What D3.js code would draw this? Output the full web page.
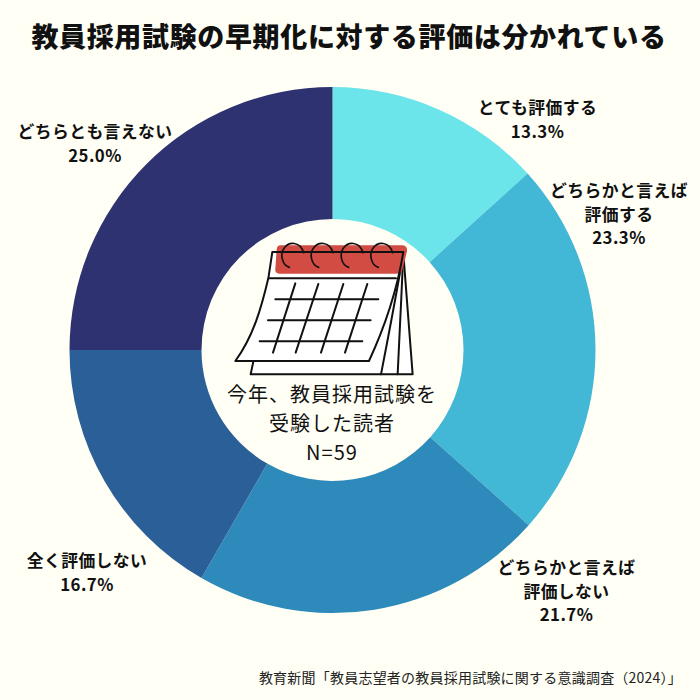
<!DOCTYPE html>
<html lang="ja">
<head>
<meta charset="UTF-8">
<title>教員採用試験の早期化に対する評価</title>
<script src="https://d3js.org/d3.v7.min.js"></script>
<style>
    html, body { margin: 0; padding: 0; background: #fffff5; }
    svg { display: block; }
    text { font-family: "Noto Sans CJK JP", "Noto Sans", sans-serif; fill: #111; text-anchor: middle; }
    .title { font-size: 27px; font-weight: 900; }
    .label { font-size: 16.8px; font-weight: 700; letter-spacing: 0.45px; }
    .center { font-size: 20px; font-weight: 400; letter-spacing: 1px; }
    .source { font-size: 14px; font-weight: 400; text-anchor: end; fill: #222; letter-spacing: 0.22px; }
    .cal { fill: none; stroke: #111; stroke-width: 6; stroke-linejoin: round; stroke-linecap: round; }
</style>
</head>
<body>
<svg id="chart" width="700" height="700"></svg>
<script>
// data
const categories = ["とても評価する", "どちらかと言えば評価する", "どちらかと言えば評価しない", "全く評価しない", "どちらとも言えない"];
const values = [13.3, 23.3, 21.7, 16.7, 25.0];
const colors = ["#6be5ea", "#42b7d6", "#2d8aba", "#2b5f98", "#2e3270"];
const labelLines = [
    ["とても評価する", "13.3%"],
    ["どちらかと言えば", "評価する", "23.3%"],
    ["どちらかと言えば", "評価しない", "21.7%"],
    ["全く評価しない", "16.7%"],
    ["どちらとも言えない", "25.0%"]
];
const labelPos = [[537.5, 108], [619, 191], [566.5, 568], [87, 561], [95, 132]];

const svg = d3.select("#chart");
const cx = 332.5, cy = 350, outer = 263, inner = 131;

svg.append("rect").attr("width", 700).attr("height", 700).attr("fill", "#fffff5");

svg.append("text").attr("class", "title")
    .attr("x", 349).attr("y", 47)
    .style("letter-spacing", "0.65px")
    .text("教員採用試験の早期化に対する評価は分かれている");

const pie = d3.pie().sort(null).value(d => d);
const arc = d3.arc().innerRadius(inner).outerRadius(outer);

svg.append("g").attr("transform", `translate(${cx},${cy})`)
    .selectAll("path")
    .data(pie(values))
    .join("path")
    .attr("d", arc)
    .attr("fill", (d, i) => colors[i]);

// slice labels
labelLines.forEach((lines, i) => {
    const t = svg.append("text").attr("class", "label")
        .attr("x", labelPos[i][0]).attr("y", labelPos[i][1] + 6);
    lines.forEach((s, j) => {
        t.append("tspan").attr("x", labelPos[i][0]).attr("dy", j ? 23.5 : 0).text(s);
    });
});

// calendar icon in the middle of the ring
const cal = svg.append("g").attr("transform", "translate(220,230) scale(0.3333)");
cal.append("path").attr("d", "M92 433L578 433L550 70L157 66Z").attr("fill", "#fff").attr("stroke", "none");
cal.append("path").attr("class", "cal").attr("d", "M92 433L100 395M92 433H578L550 70");
cal.append("path").attr("class", "cal").attr("d", "M483 433C505 320 530 190 550 70M533 433C538 320 545 190 550 70");
cal.append("path").attr("d", "M157 66H550C530 190 490 300 447 393H46C100 320 125 230 145 145Z")
    .attr("fill", "#fff").attr("stroke", "none");
cal.append("path").attr("d", "M181 46H545Q563 46 561 64L548 118Q545 131 530 131H178Q164 131 166 116L170 58Q172 46 181 46Z")
    .attr("fill", "#d24c43");
cal.append("path").attr("class", "cal")
    .attr("d", "M157 66H550C530 190 490 300 447 393H46C100 320 125 230 145 145L157 66M145 145H528");
[[226, 160, 159, 368], [295, 162, 227, 368], [370, 162, 303, 368], [442, 162, 375, 368]].forEach(d => {
    cal.append("line").attr("class", "cal").attr("x1", d[0]).attr("y1", d[1]).attr("x2", d[2]).attr("y2", d[3]);
});
[[166, 208, 475], [144, 271, 452], [119, 334, 427]].forEach(d => {
    cal.append("line").attr("class", "cal").attr("x1", d[0]).attr("y1", d[1]).attr("x2", d[2]).attr("y2", d[1]);
});
[0, 88, 178, 267].forEach(dx => {
    cal.append("path").attr("class", "cal").style("stroke-width", 5)
        .attr("transform", `translate(${dx},0)`)
        .attr("d", "M208 112C185 105 180 70 192 55C205 35 240 32 251 68");
});

const centerLines = ["今年、教員採用試験を", "受験した読者", "N=59"];
centerLines.forEach((s, i) => {
    svg.append("text").attr("class", "center")
        .attr("x", 332).attr("y", 402 + i * 29).text(s);
});

svg.append("text").attr("class", "source")
    .attr("x", 682).attr("y", 683)
    .text("教育新聞「教員志望者の教員採用試験に関する意識調査（2024）」");
</script>
</body>
</html>
